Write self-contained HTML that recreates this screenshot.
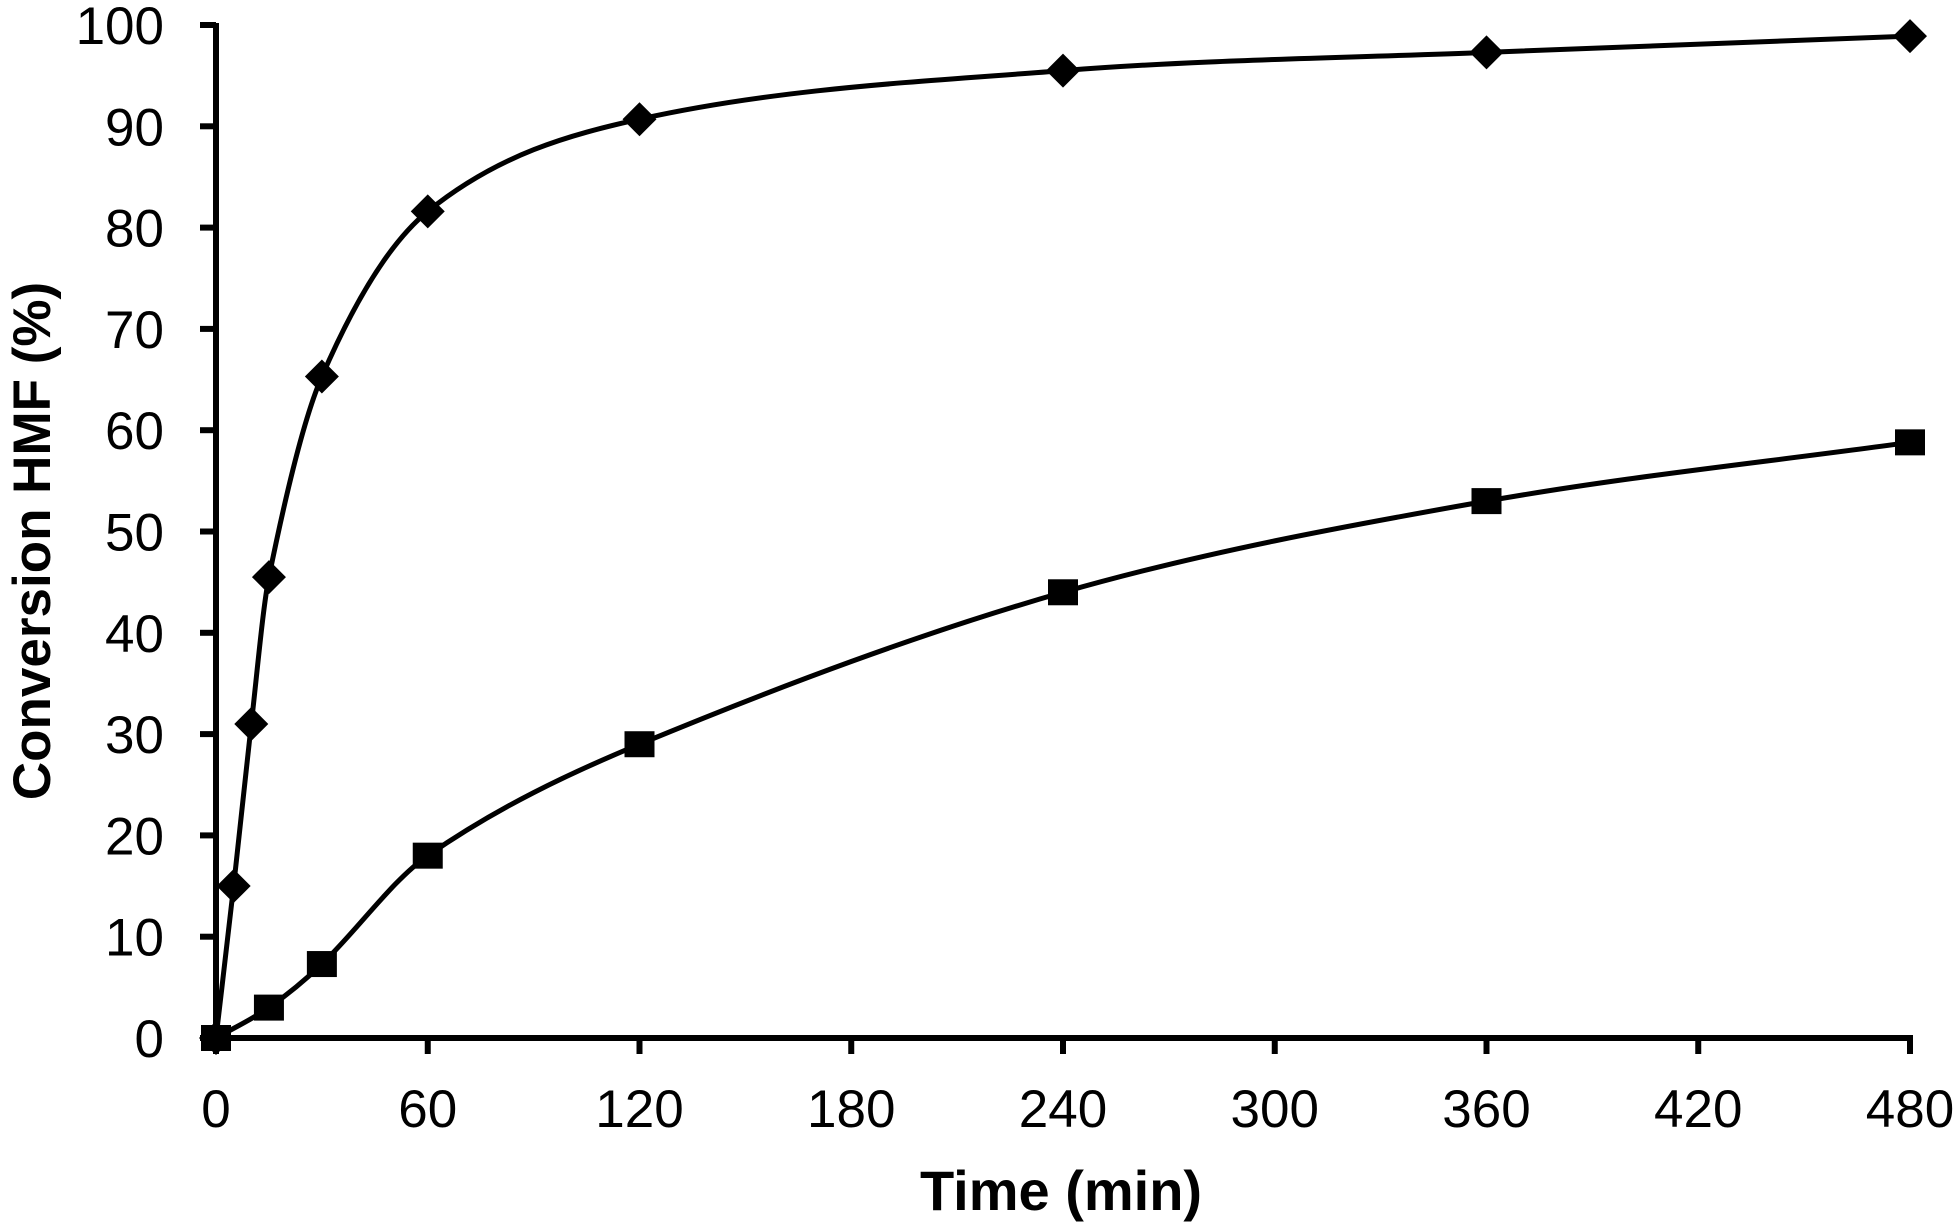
<!DOCTYPE html>
<html><head><meta charset="utf-8"><style>
html,body{margin:0;padding:0;background:#fff}
svg{display:block}
text{font-family:"Liberation Sans",Arial,sans-serif;fill:#000}
</style></head><body>
<svg id="chart" width="1960" height="1223" viewBox="0 0 1960 1223" xmlns="http://www.w3.org/2000/svg">
<g id="axes"></g>
<g id="series"></g>
<text x="1061" y="1210" font-size="56" font-weight="bold" text-anchor="middle">Time (min)</text>
<text transform="translate(50,541) rotate(-90)" font-size="53" font-weight="bold" text-anchor="middle">Conversion HMF (%)</text>
</svg>
<script>
const xTicks = [0,60,120,180,240,300,360,420,480];
const yTicks = [0,10,20,30,40,50,60,70,80,90,100];
const diamondX = [0,5,10,15,30,60,120,240,360,480];
const diamondY = [0,15,31,45.5,65.3,81.6,90.7,95.5,97.3,98.9];
const squareX = [0,15,30,60,120,240,360,480];
const squareY = [0,3,7.3,18,29,44,53,58.8];

const X0=216, X1=1910, Y0=1038, Y1=25;
const sx = v => X0 + (v/480)*(X1-X0);
const sy = v => Y0 - (v/100)*(Y0-Y1);
const NS='http://www.w3.org/2000/svg';
function mk(tag, attrs, parent){const e=document.createElementNS(NS,tag);for(const k in attrs)e.setAttribute(k,attrs[k]);parent.appendChild(e);return e;}
const axes=document.getElementById('axes');
const ser=document.getElementById('series');

let a=mk('line',{x1:X0,y1:Y1-2,x2:X0,y2:Y0+2,stroke:'#000','stroke-width':6},axes);


a=mk('line',{x1:X0-2,y1:Y0,x2:X1+3,y2:Y0,stroke:'#000','stroke-width':6},axes);


yTicks.forEach(v=>{
  const t=mk('line',{x1:X0-16,y1:sy(v),x2:X0,y2:sy(v),stroke:'#000','stroke-width':6},axes);
  
  
  const l=mk('text',{x:X0-52,y:sy(v)+19,'font-size':53,'text-anchor':'end'},axes);
  l.textContent=v;
  
  
});
xTicks.forEach(v=>{
  const t=mk('line',{x1:sx(v),y1:Y0,x2:sx(v),y2:Y0+16,stroke:'#000','stroke-width':6},axes);
  
  
  const l=mk('text',{x:sx(v),y:1127,'font-size':53,'text-anchor':'middle'},axes);
  l.textContent=v;
  
  
});

function smoothPath(xs,ys,t){
  const px=xs.map(sx), py=ys.map(sy), n=px.length;
  let p=`M${px[0]},${py[0]}`;
  for(let i=0;i<n-1;i++){
    const i0=Math.max(0,i-1), i3=Math.min(n-1,i+2);
    const h=(px[i+1]-px[i]);
    const m1=(py[i+1]-py[i0])/(px[i+1]-px[i0]);
    const m2=(py[i3]-py[i])/(px[i3]-px[i]);
    p+=` C${px[i]+h/3},${py[i]+m1*h/3} ${px[i+1]-h/3},${py[i+1]-m2*h/3} ${px[i+1]},${py[i+1]}`;
  }
  return p;
}
let c=mk('path',{d:smoothPath(diamondX,diamondY),fill:'none',stroke:'#000','stroke-width':5},ser);


c=mk('path',{d:smoothPath(squareX,squareY),fill:'none',stroke:'#000','stroke-width':5},ser);


diamondX.forEach((x,i)=>{
  const cx=sx(x),cy=sy(diamondY[i]),r=17;
  const p=mk('polygon',{points:`${cx},${cy-r} ${cx+r},${cy} ${cx},${cy+r} ${cx-r},${cy}`,fill:'#000'},ser);
  
  
});
squareX.forEach((x,i)=>{
  const cx=sx(x),cy=sy(squareY[i]);
  const p=mk('rect',{x:cx-15,y:cy-13,width:30,height:26,fill:'#000'},ser);
  
  
});
</script>
</body></html>
